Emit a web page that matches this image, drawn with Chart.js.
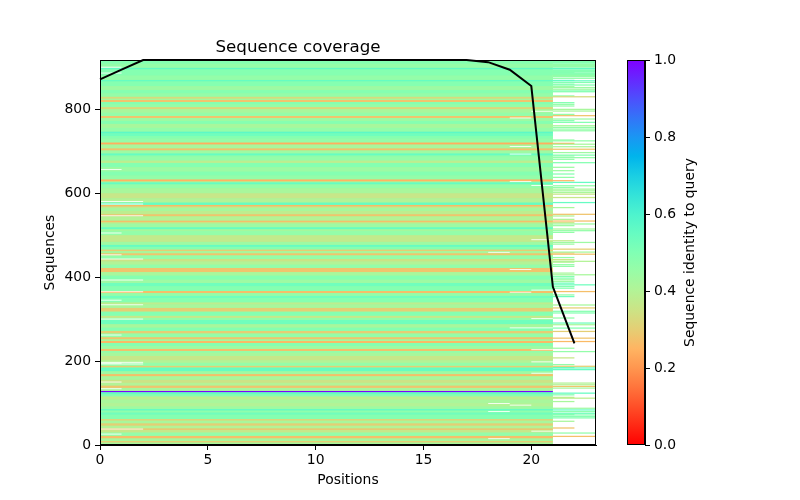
<!DOCTYPE html>
<html>
<head>
<meta charset="utf-8">
<script src="https://cdn.jsdelivr.net/npm/chart.js@4.4.1/dist/chart.umd.min.js"></script>
<style>
  body { margin: 0; background: #fff; }
  #wrap { position: relative; width: 800px; height: 500px; }
  #wrap canvas { position: absolute; left: 0; top: 0; }
</style>
</head>
<body>
<div id="wrap">
  <canvas id="main" width="800" height="500"></canvas>
  <canvas id="bar" width="800" height="500"></canvas>
</div>
<script>
const nSeq = 917;
const nPos = 23;
const xTicks = [0, 5, 10, 15, 20];
const yTicks = [0, 200, 400, 600, 800];
const cbTicks = [0, 0.2, 0.4, 0.6, 0.8, 1.0];

// non-gap sequences per position
const coverage = [871, 894, 917, 917, 917, 917, 917, 917, 917, 917, 917, 917,
  917, 917, 917, 917, 917, 917, 912, 894, 855, 377, 242];

// row bands (positions 0-20): first row of band and its identity
const bandStart = [
  0, 6, 10, 16, 22, 30, 36, 40, 46, 52,
  58, 62, 72, 78, 82, 86, 92, 100, 108, 116,
  121, 126, 129, 136, 142, 148, 156, 164, 169, 176,
  185, 189, 196, 202, 212, 220, 224, 229, 236, 243,
  248, 252, 257, 266, 272, 280, 288, 298, 303, 308,
  318, 327, 335, 340, 350, 356, 362, 367, 378, 386,
  394, 404, 412, 422, 430, 437, 443, 452, 457, 462,
  466, 472, 477, 484, 500, 510, 514, 519, 528, 531,
  535, 545, 550, 558, 565, 568, 572, 578, 588, 600,
  612, 621, 626, 628, 633, 642, 652, 662, 672, 678,
  688, 690, 695, 702, 707, 716, 721, 730, 736, 742,
  747, 756, 765, 772, 779, 784, 792, 800, 805, 812,
  817, 822, 825, 830, 838, 846, 855, 866, 870, 880,
  895, 899, 908];
const bandIdent = [
  .42, .30, .42, .27, .46, .36, .28, .40, .30, .42,
  .32, .49, .53, .47, .55, .44, .40, .42, .38, .49,
  .55, 1.0, .42, .28, .40, .35, .42, .27, .44, .55,
  .30, .46, .40, .36, .42, .46, .27, .44, .49, .26,
  .42, .28, .46, .30, .49, .42, .53, .46, .36, .49,
  .30, .42, .38, .49, .53, .46, .27, .49, .53, .44,
  .49, .42, .28, .46, .40, .35, .46, .28, .42, .30,
  .49, .55, .44, .37, .46, .42, .55, .44, .35, .27,
  .40, .28, .38, .42, .36, .26, .55, .40, .36, .42,
  .46, .55, .42, .25, .46, .49, .44, .49, .38, .46,
  .49, .55, .44, .28, .42, .24, .46, .49, .53, .57,
  .46, .42, .49, .44, .28, .46, .42, .32, .46, .49,
  .28, .42, .33, .46, .49, .44, .49, .55, .46, .49,
  .56, .46, .49];

// rows from here up cover every position
const fullFrom = 888;

// rows that continue to position 21, and to positions 21-22
const tailTo22 = [886, 878, 867, 858, 852, 830, 814, 810, 806, 786, 771, 725, 717,
  687, 679, 660, 652, 644, 636, 628, 612, 564, 544, 536, 528, 521, 505, 485, 477,
  456, 445, 440, 434, 428, 424, 408, 400, 396, 392, 388, 384, 376, 372, 356, 352,
  301, 229, 206, 190, 183, 118, 112, 102, 71, 55, 39];
const tailTo23 = [885, 883, 881, 879, 876, 872, 866, 862, 856, 850, 846, 842, 840,
  828, 798, 794, 783, 775, 767, 759, 755, 751, 747, 723, 715, 709, 703, 695, 689,
  683, 671, 624, 616, 608, 604, 600, 596, 588, 576, 548, 532, 525, 513, 509, 481,
  465, 458, 453, 436, 404, 380, 364, 332, 325, 317, 313, 289, 285, 277, 269, 253,
  245, 221, 186, 182, 178, 146, 142, 138, 134, 122, 110, 86, 82, 78, 74, 70, 66,
  63, 27, 19];

// gaps inside rows: row, first and last position edge
const gapRow  = [899, 885, 655, 579, 573, 545, 504, 452, 442, 392, 364, 344, 333,
  299, 261, 192, 194, 196, 149, 133, 37, 25,
  794, 778, 710, 692, 627, 617, 488, 458, 417, 368, 363, 300, 278, 226, 197, 170,
  98, 94, 79, 32, 14];
const gapFrom = [0, 0, 0, 0, 0, 0, 0, 0, 0, 0, 0, 0, 0,
  0, 0, 0, 0, 0, 0, 0, 0, 0,
  20, 19, 19, 19, 19, 20, 20, 18, 19, 20, 19, 20, 19, 20, 20, 20,
  18, 19, 18, 20, 18];
const gapTo   = [1, 1, 1, 2, 2, 2, 1, 1, 2, 2, 2, 1, 2,
  2, 1, 2, 1, 2, 1, 1, 2, 1,
  21, 20, 20, 20, 20, 21, 21, 19, 20, 21, 20, 21, 21, 21, 21, 21,
  19, 20, 19, 21, 19];

const FONT = 'DejaVu Sans';
Chart.defaults.font.family = FONT;
Chart.defaults.font.size = 13.9;
Chart.defaults.color = '#000';

// matplotlib rainbow_r
function idColor(v) {
  const t = 1 - v;
  const r = Math.min(1, Math.abs(2 * t - 0.5));
  const g = Math.max(0, Math.sin(Math.PI * t));
  const b = Math.max(0, Math.cos(Math.PI * t / 2));
  return 'rgb(' + Math.round(r * 255) + ',' + Math.round(g * 255) + ',' + Math.round(b * 255) + ')';
}

function identOf(row) {
  let k = 0;
  for (let i = 0; i < bandStart.length; i++) {
    if (bandStart[i] <= row) k = i;
  }
  return bandIdent[k];
}

const msaCells = {
  id: 'msaCells',
  beforeDatasetsDraw(chart) {
    const {ctx, chartArea: a, scales: {x, y}} = chart;
    ctx.save();
    ctx.beginPath();
    ctx.rect(a.left, a.top, a.right - a.left, a.bottom - a.top);
    ctx.clip();
    function cell(r0, r1, p0, p1, color) {
      const left = x.getPixelForValue(p0);
      const right = x.getPixelForValue(p1);
      const top = y.getPixelForValue(r1);
      const bottom = y.getPixelForValue(r0);
      ctx.fillStyle = color;
      ctx.fillRect(left, top, right - left, bottom - top);
    }
    cell(0, nSeq, 0, 21, idColor(0.44));
    bandStart.forEach((r, i) => {
      const next = i + 1 < bandStart.length ? bandStart[i + 1] : nSeq;
      cell(r, next, 0, 21, idColor(bandIdent[i]));
      if (next > fullFrom) {
        cell(Math.max(r, fullFrom), next, 21, nPos, idColor(bandIdent[i]));
      }
    });
    tailTo22.forEach(r => cell(r, r + 3, 21, 22, idColor(identOf(r))));
    tailTo23.forEach(r => cell(r, r + 3, 21, 23, idColor(identOf(r))));
    gapRow.forEach((r, i) => cell(r, r + 2, gapFrom[i], gapTo[i], '#fff'));
    ctx.restore();
  },
  afterDraw(chart) {
    const {ctx, chartArea: a} = chart;
    ctx.save();
    ctx.strokeStyle = '#000';
    ctx.lineWidth = 1;
    ctx.strokeRect(Math.round(a.left) + 0.5, Math.round(a.top) + 0.5,
      Math.round(a.right - a.left) - 1, Math.round(a.bottom - a.top) - 1);
    ctx.restore();
  }
};

const tickGrid = {
  display: true,
  drawOnChartArea: false,
  drawTicks: true,
  tickLength: 5,
  tickColor: '#000',
  tickWidth: 1
};

new Chart(document.getElementById('main'), {
  type: 'scatter',
  data: {
    datasets: [{
      label: 'coverage',
      data: coverage.map((c, i) => ({x: i, y: c})),
      showLine: true,
      borderColor: '#000',
      borderWidth: 2,
      pointRadius: 0,
      tension: 0,
      clip: 1
    }]
  },
  options: {
    responsive: false,
    animation: false,
    devicePixelRatio: 1,
    layout: {padding: {left: 0, right: 204, top: 0, bottom: 0}},
    plugins: {
      legend: {display: false},
      tooltip: {enabled: false},
      title: {
        display: true,
        text: 'Sequence coverage',
        color: '#000',
        font: {size: 16.7, weight: 'normal'},
        padding: {top: 38, bottom: 2}
      }
    },
    scales: {
      x: {
        type: 'linear',
        min: 0,
        max: nPos,
        afterBuildTicks(s) { s.ticks = xTicks.map(v => ({value: v})); },
        afterFit(s) { s.height = 55; },
        ticks: {padding: 2, maxRotation: 0},
        grid: tickGrid,
        border: {display: true, color: '#000', width: 1},
        title: {display: true, text: 'Positions', padding: {top: 0, bottom: 11}}
      },
      y: {
        type: 'linear',
        min: 0,
        max: nSeq,
        afterBuildTicks(s) { s.ticks = yTicks.map(v => ({value: v})); },
        afterFit(s) { s.width = 100; },
        ticks: {padding: 4},
        grid: tickGrid,
        border: {display: true, color: '#000', width: 1},
        title: {display: true, text: 'Sequences', padding: {top: 42, bottom: 0}}
      }
    }
  },
  plugins: [msaCells]
});

const barFrame = {
  id: 'barFrame',
  afterDraw(chart) {
    const {ctx, chartArea: a} = chart;
    ctx.save();
    ctx.strokeStyle = '#000';
    ctx.lineWidth = 1;
    ctx.strokeRect(Math.round(a.left) + 0.5, Math.round(a.top) + 0.5,
      Math.round(a.right - a.left) - 1, Math.round(a.bottom - a.top) - 1);
    ctx.translate(690, (a.top + a.bottom) / 2);
    ctx.rotate(-Math.PI / 2);
    ctx.fillStyle = '#000';
    ctx.font = '13.9px "' + FONT + '"';
    ctx.textAlign = 'center';
    ctx.textBaseline = 'middle';
    ctx.fillText('Sequence identity to query', 0, 0);
    ctx.restore();
  }
};

new Chart(document.getElementById('bar'), {
  type: 'bar',
  data: {
    labels: [''],
    datasets: [{
      data: [[0, 1]],
      barPercentage: 1,
      categoryPercentage: 1,
      borderWidth: 0,
      backgroundColor(context) {
        const {chart} = context;
        const a = chart.chartArea;
        if (!a) return idColor(0.5);
        const g = chart.ctx.createLinearGradient(0, a.bottom, 0, a.top);
        for (let i = 0; i <= 20; i++) g.addColorStop(i / 20, idColor(i / 20));
        return g;
      }
    }]
  },
  options: {
    responsive: false,
    animation: false,
    devicePixelRatio: 1,
    layout: {padding: {left: 627, right: 0, top: 60, bottom: 55}},
    plugins: {legend: {display: false}, tooltip: {enabled: false}},
    scales: {
      x: {display: false},
      y: {
        position: 'right',
        min: 0,
        max: 1,
        afterBuildTicks(s) { s.ticks = cbTicks.map(v => ({value: v})); },
        afterFit(s) { s.width = 155; },
        ticks: {padding: 4, callback: v => v.toFixed(1)},
        grid: tickGrid,
        border: {display: true, color: '#000', width: 1}
      }
    }
  },
  plugins: [barFrame]
});
</script>
</body>
</html>
